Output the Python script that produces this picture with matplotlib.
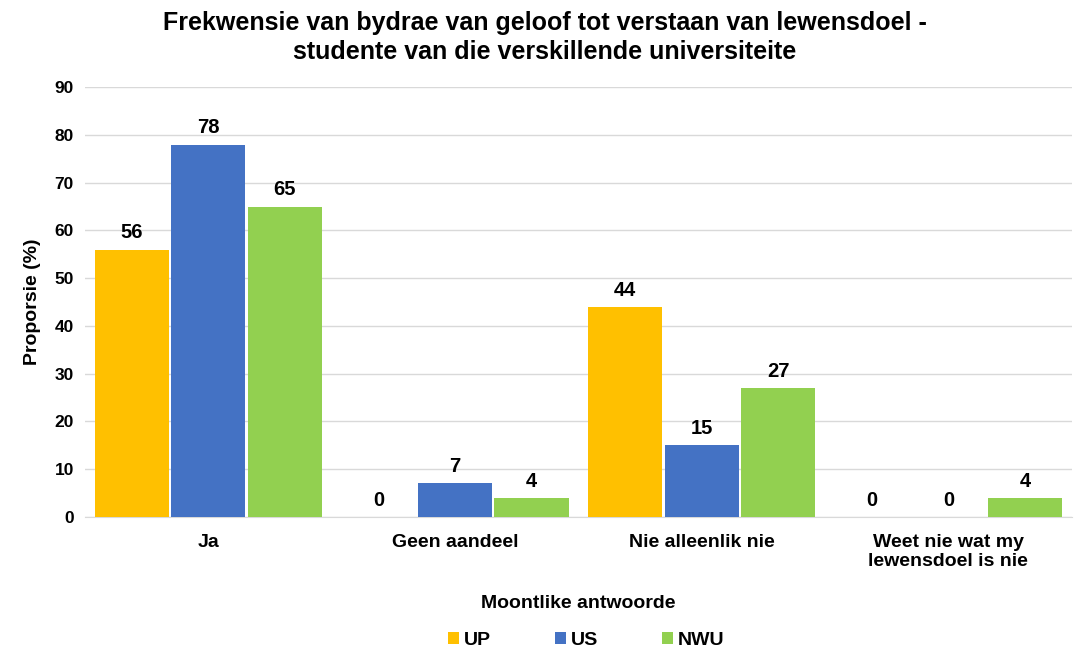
import numpy as np
import matplotlib
matplotlib.use("Agg")
from matplotlib import pyplot as plt

plt.rcParams['font.family'] = ['Liberation Sans', 'DejaVu Sans']
plt.rcParams['font.weight'] = 'bold'

categories = ['Ja', 'Geen aandeel', 'Nie alleenlik nie', 'Weet nie wat my\nlewensdoel is nie']
up = [56, 0, 44, 0]
us = [78, 7, 15, 0]
nwu = [65, 4, 27, 4]
series = ['UP', 'US', 'NWU']
colors = ['#FFC000', '#4472C4', '#92D050']

fig = plt.figure(figsize=(10.76, 6.61), dpi=100)
ax = fig.add_axes([0.079, 0.218, 0.917, 0.650])

x = np.arange(len(categories))
w = 0.31
for i, (name, vals, c) in enumerate(zip(series, [up, us, nwu], colors)):
    pos = x + (i - 1) * w
    ax.bar(pos, vals, w * 0.97, color=c, label=name, zorder=3)
    for xp, v in zip(pos, vals):
        ax.text(xp, v + 1.5, str(v), ha='center', va='bottom', fontsize=14.5, fontweight='bold')

ax.set_xlim(-0.5, len(categories) - 0.5)
ax.set_ylim(0, 90)
ax.set_yticks(range(0, 91, 10))
ax.set_xticks(x)
ax.set_xticklabels(categories, fontsize=14)
ax.tick_params(axis='y', labelsize=12.5, length=0, pad=8)
ax.tick_params(axis='x', length=0, pad=12)
ax.grid(axis='y', color='#D9D9D9', linewidth=1, zorder=0)
for s in ['top', 'right', 'left']:
    ax.spines[s].set_visible(False)
ax.spines['bottom'].set_color('#D9D9D9')

ax.set_ylabel('Proporsie (%)', fontsize=14, fontweight='bold', labelpad=10)
ax.set_xlabel('Moontlike antwoorde', fontsize=14, fontweight='bold', labelpad=18)
fig.suptitle('Frekwensie van bydrae van geloof tot verstaan van lewensdoel -\nstudente van die verskillende universiteite',
             x=0.506, y=0.983, fontsize=18, fontweight='bold', linespacing=1.25)

fig.legend(loc='lower center', bbox_to_anchor=(0.545, -0.008), ncol=3, frameon=False,
           fontsize=14, handlelength=0.55, handleheight=0.55, columnspacing=3.3, handletextpad=0.25)

fig.savefig('out.png', dpi=100)
